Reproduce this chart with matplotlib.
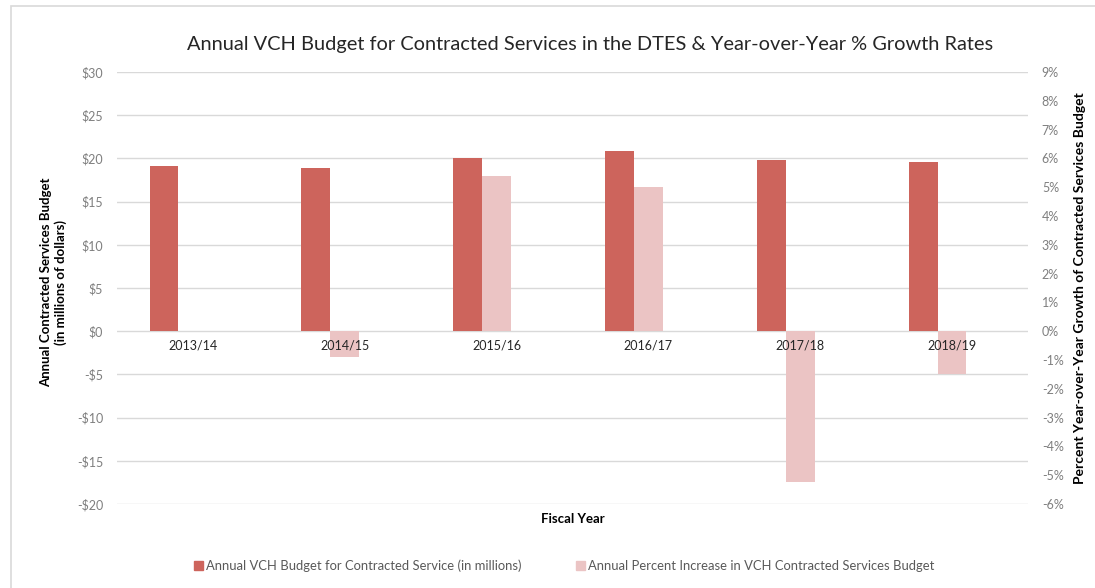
import numpy as np
import matplotlib
matplotlib.use("Agg")
import matplotlib.pyplot as plt
from matplotlib.patches import Rectangle

# data
years = ["2013/14", "2014/15", "2015/16", "2016/17", "2017/18", "2018/19"]
budget = [19.1, 18.9, 20.0, 20.9, 19.8, 19.6]  # millions of dollars
pct_growth = [0.0, -0.9, 5.4, 5.0, -5.25, -1.5]  # percent
left_ticks = [30, 25, 20, 15, 10, 5, 0, -5, -10, -15, -20]
right_ticks = list(range(-6, 10))

red = "#CD645C"
pink = "#EBC4C4"
grey_txt = "#7F7F7F"

plt.rcParams['font.family'] = ['Lato', 'DejaVu Sans']

fig = plt.figure(figsize=(10.95, 5.88), dpi=100)
ax = fig.add_axes([0.1068, 0.1429, 0.832, 0.7347])
ax2 = ax.twinx()

x = np.arange(len(years))
w = 0.19
ax.bar(x - w, budget, width=w, color=red, zorder=3)
ax2.bar(x, pct_growth, width=w, color=pink, zorder=3)

ax.set_xlim(-0.5, len(years) - 0.5)
ax.set_ylim(-20, 30)
ax2.set_ylim(-6, 9)

ax.set_yticks(left_ticks)
ax.set_yticklabels([("-$%d" % -v) if v < 0 else ("$%d" % v) for v in left_ticks])
ax2.set_yticks(right_ticks)
ax2.set_yticklabels(["%d%%" % v for v in right_ticks])

ax.grid(axis='y', color="#D9D9D9", linewidth=1, zorder=0)
ax.set_axisbelow(True)
for a in (ax, ax2):
    for s in ("top", "left", "right", "bottom"):
        a.spines[s].set_visible(False)
    a.tick_params(length=0, labelsize=9, labelcolor=grey_txt)
ax.tick_params(axis='y', pad=10)
ax2.tick_params(axis='y', pad=10)

# category labels sit just under the zero line, drawn over the bars
ax.set_xticks([])
for i, yr in enumerate(years):
    ax2.text(i, -1.0, yr, ha='center', va='top', fontsize=9, color="#262626",
             zorder=5, transform=ax.transData)

ax.text(0.5, -0.02, "Fiscal Year", transform=ax.transAxes, ha='center', va='top',
        fontsize=9.5, fontweight='bold')
fig.text(0.049, 0.52, "Annual Contracted Services Budget\n(in millions of dollars)",
         rotation=90, ha='center', va='center', fontsize=9.5, fontweight='bold',
         linespacing=1.15)
fig.text(0.986, 0.51, "Percent Year-over-Year Growth of Contracted Services Budget",
         rotation=90, ha='center', va='center', fontsize=10, fontweight='bold')

fig.text(0.539, 0.925, "Annual VCH Budget for Contracted Services in the DTES & Year-over-Year % Growth Rates",
         ha='center', va='center', fontsize=14.4, color="#262626")

h1 = Rectangle((0, 0), 1, 1, color=red)
h2 = Rectangle((0, 0), 1, 1, color=pink)
fig.legend([h1, h2], ["Annual VCH Budget for Contracted Service (in millions)",
                      "Annual Percent Increase in VCH Contracted Services Budget"],
           loc='center', bbox_to_anchor=(0.515, 0.038), ncol=2, frameon=False,
           fontsize=9.4, handlelength=0.7, handleheight=0.7, handletextpad=0.2,
           columnspacing=4.2, labelcolor="#595959")

# outer chart border
fig.patches.append(Rectangle((11 / 1095, -0.1), 1.2, 1.1 - 6 / 588, transform=fig.transFigure,
                             fill=False, edgecolor="#D9D9D9", linewidth=1.2))

fig.savefig("out.png", dpi=100)
